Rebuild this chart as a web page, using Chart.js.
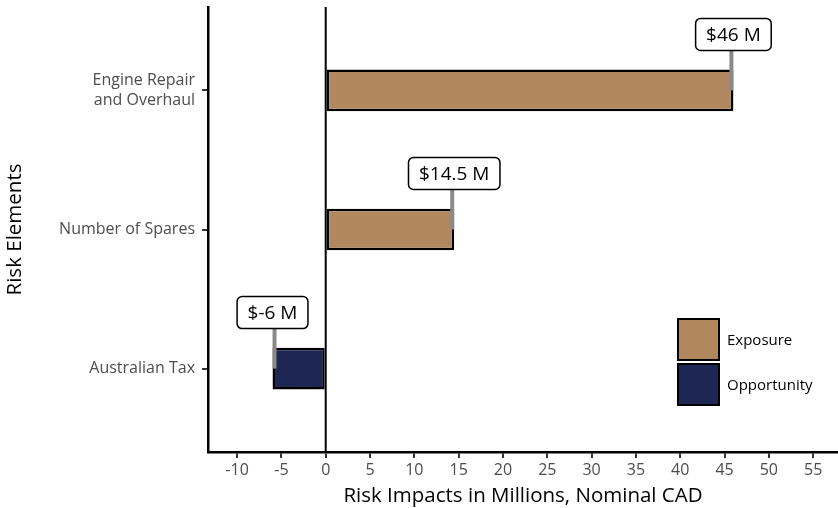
<!DOCTYPE html>
<html>
<head>
<meta charset="utf-8">
<script src="https://cdn.jsdelivr.net/npm/chart.js@4"></script>
<style>
  html, body { margin: 0; padding: 0; background: #ffffff; }
  #wrap { width: 838px; height: 508px; }
</style>
</head>
<body>
<div id="wrap"><canvas id="chart" width="838" height="508"></canvas></div>
<script>
// Risk elements, bottom to top
const categories = ['Australian Tax', 'Number of Spares', 'Engine Repair and Overhaul'];
const categoryLabels = [['Australian Tax'], ['Number of Spares'], ['Engine Repair', 'and Overhaul']];
// Risk impacts in millions (CAD); null where the element belongs to the other series
const exposureValues = [null, 14.5, 46];
const opportunityValues = [-6, null, null];
const seriesNames = ['Exposure', 'Opportunity'];
const seriesColors = ['#B0875F', '#1E2754'];
const xTickValues = [-10, -5, 0, 5, 10, 15, 20, 25, 30, 35, 40, 45, 50, 55];

const FONT = "'Open Sans', 'DejaVu Sans', sans-serif";

function toPoints(values) {
  const pts = [];
  values.forEach((v, i) => { if (v !== null) pts.push({ x: v, y: i + 1 }); });
  return pts;
}

// vertical reference line at zero, drawn beneath the bars
const zeroLine = {
  id: 'zeroLine',
  beforeDatasetsDraw(chart) {
    const { ctx, chartArea, scales } = chart;
    const x0 = scales.x.getPixelForValue(0);
    ctx.save();
    ctx.strokeStyle = '#000';
    ctx.lineWidth = 2;
    ctx.beginPath();
    ctx.moveTo(x0, chartArea.top);
    ctx.lineTo(x0, chartArea.bottom);
    ctx.stroke();
    ctx.restore();
  }
};

// boxed value labels with a leader segment to the bar end
const valueLabels = {
  id: 'valueLabels',
  afterDatasetsDraw(chart) {
    const { ctx, scales } = chart;
    ctx.save();
    ctx.font = `19px ${FONT}`;
    ctx.textAlign = 'center';
    ctx.textBaseline = 'middle';
    chart.data.datasets.forEach(ds => {
      ds.data.forEach(p => {
        const x = scales.x.getPixelForValue(p.x);
        const yc = scales.y.getPixelForValue(p.y);
        const text = `$${p.x} M`;
        const tw = ctx.measureText(text).width;
        const w = tw + 21, h = 32;
        const by = yc - 56;
        const sx = x - Math.sign(p.x) * 2;
        // leader segment
        ctx.strokeStyle = '#8a8a8a';
        ctx.lineWidth = 4;
        ctx.beginPath();
        ctx.moveTo(sx, by + h / 2);
        ctx.lineTo(sx, yc);
        ctx.stroke();
        // label box
        ctx.beginPath();
        ctx.roundRect(x - w / 2, by - h / 2, w, h, 5);
        ctx.fillStyle = '#fff';
        ctx.fill();
        ctx.strokeStyle = '#000';
        ctx.lineWidth = 1.5;
        ctx.stroke();
        ctx.fillStyle = '#000';
        ctx.fillText(text, x, by + 1);
      });
    });
    ctx.restore();
  }
};

// legend inside the panel, lower right
const insideLegend = {
  id: 'insideLegend',
  afterDraw(chart) {
    const { ctx, chartArea } = chart;
    const kx = chartArea.right - 161, ky = chartArea.bottom - 134;
    const ks = 43, gap = 2;
    ctx.save();
    ctx.font = `15px ${FONT}`;
    ctx.textAlign = 'left';
    ctx.textBaseline = 'middle';
    chart.data.datasets.forEach((ds, i) => {
      const y = ky + i * (ks + gap);
      ctx.fillStyle = ds.backgroundColor;
      ctx.fillRect(kx, y, ks, ks);
      ctx.strokeStyle = '#000';
      ctx.lineWidth = 2;
      ctx.strokeRect(kx + 1, y + 1, ks - 2, ks - 2);
      ctx.fillStyle = '#000';
      ctx.fillText(ds.label, kx + ks + 7, y + ks / 2 + 1);
    });
    ctx.restore();
  }
};

const tickStyle = { color: '#4D4D4D', font: { family: FONT, size: 16 } };
const tickGrid = { display: true, offset: false, drawOnChartArea: false, drawTicks: true, tickLength: 6, color: '#333', lineWidth: 2 };

new Chart(document.getElementById('chart'), {
  type: 'bar',
  data: {
    datasets: [
      { label: seriesNames[0], data: toPoints(exposureValues), backgroundColor: seriesColors[0], stack: 'risk' },
      { label: seriesNames[1], data: toPoints(opportunityValues), backgroundColor: seriesColors[1], stack: 'risk' }
    ]
  },
  options: {
    indexAxis: 'y',
    responsive: false,
    animation: false,
    devicePixelRatio: 1,
    layout: { padding: { top: 7, right: 0, bottom: 0, left: 0 } },
    datasets: {
      bar: {
        borderColor: '#000',
        borderWidth: 2.5,
        borderSkipped: false,
        barPercentage: 0.3,
        categoryPercentage: 1
      }
    },
    plugins: { legend: { display: false }, tooltip: { enabled: false } },
    scales: {
      x: {
        type: 'linear',
        min: -13.28,
        max: 57.8,
        afterBuildTicks: s => { s.ticks = xTickValues.map(v => ({ value: v })); },
        ticks: { ...tickStyle, padding: 3, autoSkip: false, maxRotation: 0 },
        grid: tickGrid,
        border: { display: true, color: '#000', width: 2.5 },
        title: { display: true, text: 'Risk Impacts in Millions, Nominal CAD', color: '#000',
                 font: { family: FONT, size: 20.5 }, padding: { top: 0, bottom: 0 } },
        afterFit: s => { s.height = 56; s.paddingLeft = 0; s.paddingRight = 0; }
      },
      y: {
        type: 'linear',
        min: 0.4,
        max: 3.6,
        offset: false,
        stacked: true,
        afterBuildTicks: s => { s.ticks = categories.map((c, i) => ({ value: i + 1 })); },
        ticks: { ...tickStyle, padding: 7, autoSkip: false,
                 callback: v => categoryLabels[Math.round(v) - 1] },
        grid: tickGrid,
        border: { display: true, color: '#000', width: 2.5 },
        title: { display: true, text: 'Risk Elements', color: '#000',
                 font: { family: FONT, size: 20.5 }, padding: { top: 3, bottom: 0 } },
        afterFit: s => { s.width = 208; s.paddingTop = 0; s.paddingBottom = 0; }
      }
    }
  },
  plugins: [zeroLine, valueLabels, insideLegend]
});
</script>
</body>
</html>
